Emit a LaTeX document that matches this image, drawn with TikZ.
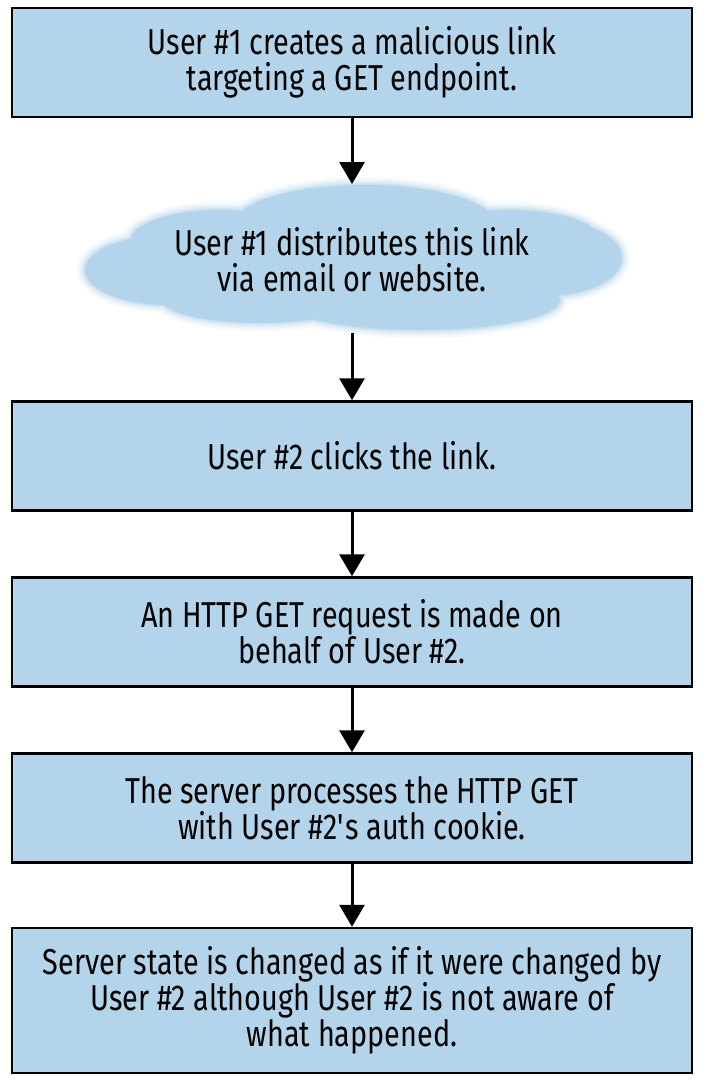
\documentclass[tikz,border=0pt]{standalone}
\usepackage{fontspec}
\setmainfont[FakeStretch=0.8]{Fira Sans}
\usetikzlibrary{arrows.meta}
\definecolor{boxblue}{RGB}{179,212,234}
\newcommand\mycloudpath[1]{%
  \path[#1]
    (352,265) ellipse [x radius=240, y radius=50]
    (170,270) ellipse [x radius=85, y radius=35]
    (545,258) ellipse [x radius=77, y radius=38]
    (365,224) ellipse [x radius=130, y radius=39]
    (220,242) ellipse [x radius=90, y radius=32]
    (510,240) ellipse [x radius=90, y radius=30]
    (420,300) ellipse [x radius=140, y radius=30]
    (260,298) ellipse [x radius=100, y radius=25];}
\begin{document}
\begin{tikzpicture}[x=1pt,y=-1pt,
  every node/.style={font=\fontsize{36}{36}\selectfont, align=center, text=black},
  stepbox/.style={draw=black, line width=2.5pt, fill=boxblue, minimum width=680pt, minimum height=109pt, inner sep=0pt},
  flow/.style={line width=3pt, -{Triangle[width=25pt,length=22pt]}}]
\useasboundingbox (0,0) rectangle (704,1085);
\fill[white] (0,0) rectangle (704,1085);
% cloud with soft edges
\foreach \w/\o in {16/0.12, 11/0.18, 7/0.25, 3/0.4}{
  \begin{scope}[transparency group, opacity=\o]
    \mycloudpath{draw=boxblue, fill=boxblue, line width=\w pt}
  \end{scope}
}
\mycloudpath{fill=boxblue}
\node[stepbox] (b1) at (352,62.5) {User \#1 creates a malicious link\\targeting a GET endpoint.};
\node (cl) at (352,260) {User \#1 distributes this link\\via email or website.};
\coordinate (ctop) at (352,184);
\coordinate (cbot) at (352,333);
\node[stepbox] (b3) at (352,456) {User \#2 clicks the link.};
\node[stepbox] (b4) at (352,632) {An HTTP GET request is made on\\behalf of User \#2.};
\node[stepbox] (b5) at (352,808) {The server processes the HTTP GET\\with User \#2\textquotesingle s auth cookie.};
\node[stepbox, minimum height=145pt] (b6) at (352,1000.5) {Server state is changed as if it were changed by\\User \#2 although User \#2 is not aware of\\what happened.};
\draw[flow] (b1.south) -- (ctop);
\draw[flow] (cbot) -- (b3.north);
\draw[flow] (b3.south) -- (b4.north);
\draw[flow] (b4.south) -- (b5.north);
\draw[flow] (b5.south) -- (b6.north);
\end{tikzpicture}
\end{document}
